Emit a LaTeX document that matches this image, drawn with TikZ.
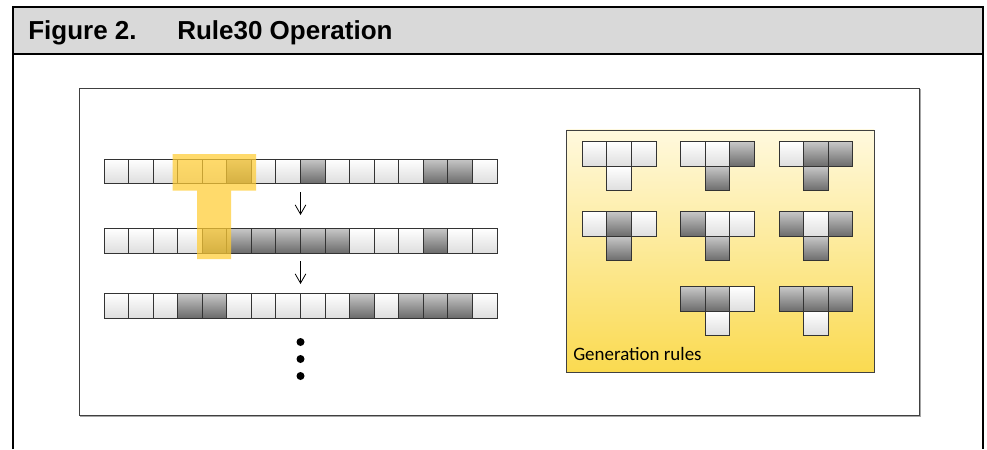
\documentclass[tikz,border=0pt]{standalone}
\usepackage{fontspec}
\setmainfont{Liberation Sans}
\newfontfamily\labelfont{Carlito}
\usetikzlibrary{arrows.meta}

\definecolor{headgray}{RGB}{217,217,217}
\definecolor{hilite}{RGB}{255,204,51}
\definecolor{rulestop}{RGB}{255,249,222}
\definecolor{rulesbot}{RGB}{250,218,80}

% cell width in px units
\def\cw{24.56}

\tikzset{
  cell0/.style={draw=black!80,line width=0.7pt,top color=white,bottom color=black!13},
  cell1/.style={draw=black!80,line width=0.7pt,top color=black!22,bottom color=black!58},
  nextgen/.style={line width=0.6pt,-{Straight Barb[length=7pt,width=8pt]}},
}

\begin{document}
% x and y in px, y pointing down
\begin{tikzpicture}[x=0.75pt,y=-0.75pt]
\useasboundingbox (0,0) rectangle (987,449);

% frame and heading
\fill[headgray] (12.5,7.5) rectangle (982.5,54.5);
\draw[line width=1.5pt] (12.5,449) -- (12.5,7.5) -- (982.5,7.5) -- (982.5,449);
\draw[line width=1.5pt] (12.5,54.5) -- (982.5,54.5);
\node[anchor=base west,inner sep=0pt,font=\fontsize{19.5}{23}\selectfont\bfseries] (fignum) at (28,40) {Figure 2.};
\node[anchor=base west,inner sep=0pt,font=\fontsize{19.5}{23}\selectfont\bfseries] (figtitle) at (177,40) {Rule30 Operation};

% inner box
\draw[black!35,line width=1.2pt] (81,90) rectangle (920.5,416.5);
\draw[black!75,fill=white,line width=0.6pt] (79.5,88.5) rectangle (919,415);

% generations
\foreach \y/\pat in {159/{0,0,0,0,0,1,0,0,1,0,0,0,0,1,1,0},
                     228.5/{0,0,0,0,1,1,1,1,1,1,0,0,0,1,0,0},
                     293.5/{0,0,0,1,1,0,0,0,0,0,1,0,1,1,1,0}}
  \foreach \v [count=\i from 0] in \pat
    \draw[cell\v] (104+\i*\cw,\y) rectangle ++(\cw,24.5);

% neighbourhood highlight
\fill[hilite,opacity=0.72] (172.5,154) -- (256,154) -- (256,190.7) -- (231,190.7)
  -- (231,259) -- (197,259) -- (197,190.7) -- (172.5,190.7) -- cycle;

\coordinate (g1) at (300.5,192);
\coordinate (g2) at (300.5,215);
\coordinate (g3) at (300.5,261);
\coordinate (g4) at (300.5,284);
\draw[nextgen] (g1) -- (g2);
\draw[nextgen] (g3) -- (g4);

\foreach \y in {342,359,376}
  \fill (300.5,\y) circle [radius=4];

% generation rules
\draw[black!75,line width=0.6pt,top color=rulestop,bottom color=rulesbot] (566.5,130) rectangle (874,372);
\foreach \x/\y/\a/\b/\c/\d in {582.3/141.7/0/0/0/0, 680.7/141.7/0/0/1/1, 779/141.7/0/1/1/1,
                               582.3/211.7/0/1/0/1, 680.7/211.7/1/0/0/1, 779/211.7/1/0/1/1,
                               680.7/286.7/1/1/0/0, 779/286.7/1/1/1/0} {
  \draw[cell\a] (\x,\y) rectangle ++(\cw,\cw);
  \draw[cell\b] (\x+\cw,\y) rectangle ++(\cw,\cw);
  \draw[cell\c] (\x+2*\cw,\y) rectangle ++(\cw,\cw);
  \draw[cell\d] (\x+\cw,\y+\cw) rectangle ++(\cw,\cw);
}
\node[anchor=base west,inner sep=0pt,font=\labelfont\fontsize{14.2}{17}\selectfont] (rulelabel) at (573,360) {Generation rules};
\end{tikzpicture}
\end{document}
